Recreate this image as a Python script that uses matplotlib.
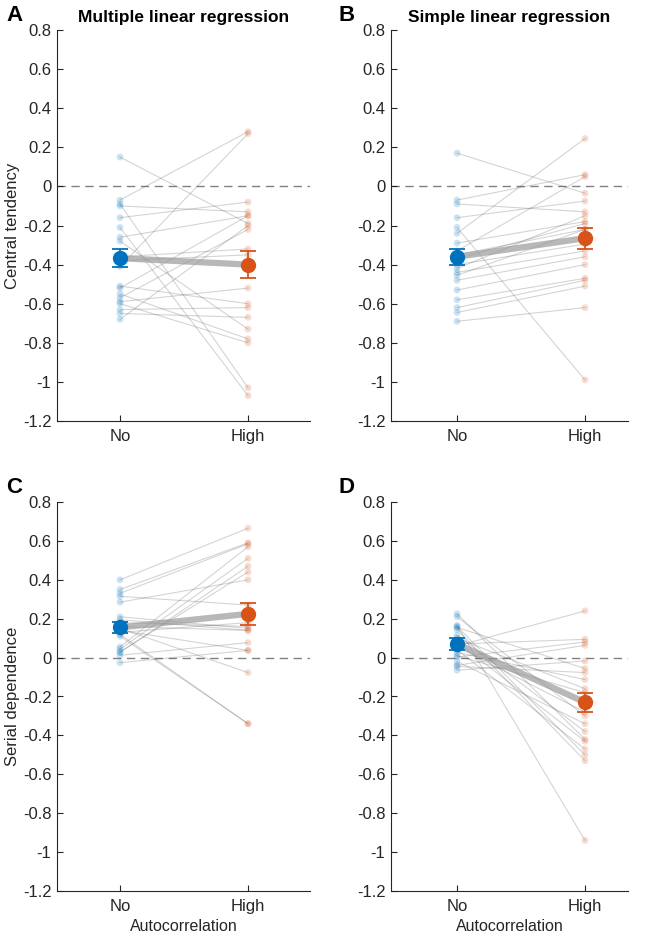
import numpy as np
import matplotlib
matplotlib.use("Agg")
import matplotlib.pyplot as plt
from matplotlib.ticker import FuncFormatter

plt.rcParams['font.family'] = ['Liberation Sans', 'DejaVu Sans']

# values per subject: (No autocorrelation, High autocorrelation)
a_no = [0.15, -0.07, -0.09, -0.10, -0.16, -0.21, -0.26, -0.28, -0.36, -0.38,
        -0.41, -0.51, -0.52, -0.55, -0.57, -0.59, -0.60, -0.63, -0.65, -0.68]
a_high = [-0.19, 0.28, -1.03, -0.13, -0.08, -1.07, -0.15, -0.73, -0.32, -0.35,
          0.27, -0.60, -0.15, -0.78, -0.22, -0.52, -0.80, -0.62, -0.67, -0.20]

b_no = [0.17, -0.07, -0.09, -0.16, -0.21, -0.24, -0.29, -0.33, -0.35, -0.37,
        -0.40, -0.42, -0.44, -0.455, -0.48, -0.53, -0.58, -0.62, -0.645, -0.69]
b_high = [-0.035, 0.06, -0.13, -0.075, -0.99, 0.245, -0.18, 0.05, -0.22, -0.19,
          -0.295, -0.15, -0.33, -0.22, -0.36, -0.40, -0.47, -0.48, -0.51, -0.62]

c_no = [0.40, 0.35, 0.33, 0.315, 0.285, 0.21, 0.195, 0.18, 0.16, 0.14,
        0.12, 0.11, 0.13, 0.055, 0.043, 0.026, 0.03, 0.012, -0.026, 0.15]
c_high = [0.665, 0.59, 0.585, 0.27, 0.40, 0.15, 0.14, 0.16, 0.14, 0.037,
          -0.34, -0.34, 0.18, 0.57, 0.51, 0.47, 0.44, 0.077, 0.037, -0.077]

d_no = [0.225, 0.21, 0.165, 0.16, 0.155, 0.145, 0.115, 0.10, 0.08, 0.07,
        0.06, 0.055, 0.04, 0.026, 0.01, 0.003, -0.02, -0.04, -0.045, -0.065]
d_high = [-0.42, -0.30, -0.94, -0.50, -0.056, -0.53, -0.38, -0.16, -0.43, 0.094,
          0.24, -0.28, -0.47, -0.113, -0.18, 0.08, -0.34, 0.063, -0.077, -0.017]

# group means and SEM
means = {'A': (-0.367, -0.40), 'B': (-0.36, -0.265), 'C': (0.155, 0.225), 'D': (0.07, -0.23)}
sems = {'A': (0.045, 0.07), 'B': (0.04, 0.053), 'C': (0.03, 0.055), 'D': (0.03, 0.05)}

conditions = ['No', 'High']
titles = {'A': 'Multiple linear regression', 'B': 'Simple linear regression'}
blue = '#0072BD'
orange = '#D95319'
txt = '#262626'

fig = plt.figure(figsize=(6.5, 9.38), dpi=100)
W, H = 650, 938


def add_ax(left, top, right, bottom):
    return fig.add_axes([left / W, 1 - bottom / H, (right - left) / W, (bottom - top) / H])


def fmt_tick(v, pos):
    v = round(v, 1) + 0.0
    return f"{v:g}"


axes = {
    'A': add_ax(57, 30, 310, 421),
    'B': add_ax(391, 30, 628, 421),
    'C': add_ax(57, 502, 310, 891),
    'D': add_ax(391, 502, 628, 891),
}
xlims = {'A': (0.508, 2.484), 'B': (0.484, 2.336), 'C': (0.508, 2.484), 'D': (0.484, 2.336)}
data = {'A': (a_no, a_high), 'B': (b_no, b_high), 'C': (c_no, c_high), 'D': (d_no, d_high)}

for key, ax in axes.items():
    no, high = data[key]
    ax.axhline(0, color='#808080', ls=(0, (6, 4)), lw=1, zorder=1)
    for y0, y1 in zip(no, high):
        ax.plot([1, 2], [y0, y1], color='#555555', alpha=0.25, lw=0.8, zorder=2)
    ax.scatter(np.ones(len(no)), no, s=24, color=blue, alpha=0.2, edgecolors='none', zorder=3)
    ax.scatter(np.full(len(high), 2), high, s=24, color=orange, alpha=0.2, edgecolors='none', zorder=3)
    m = means[key]
    e = sems[key]
    ax.plot([1, 2], m, color='#9a9a9a', lw=4.5, alpha=0.7, zorder=4, solid_capstyle='butt')
    ax.errorbar(1, m[0], yerr=e[0], fmt='o', color=blue, ms=10, capsize=5.5, lw=1.3, capthick=1.3, zorder=5)
    ax.errorbar(2, m[1], yerr=e[1], fmt='o', color=orange, ms=10, capsize=5.5, lw=1.3, capthick=1.3, zorder=5)

    ax.set_xlim(*xlims[key])
    ax.set_ylim(-1.2, 0.8)
    ax.set_xticks([1, 2])
    ax.set_xticklabels(conditions)
    ax.set_yticks(np.round(np.arange(-1.2, 0.81, 0.2), 1))
    ax.yaxis.set_major_formatter(FuncFormatter(fmt_tick))
    ax.tick_params(direction='in', length=4, colors=txt, labelsize=12)
    ax.tick_params(axis='x', pad=6)
    ax.tick_params(axis='y', pad=4)
    for s in ['top', 'right']:
        ax.spines[s].set_visible(False)
    for s in ['left', 'bottom']:
        ax.spines[s].set_color(txt)
        ax.spines[s].set_linewidth(0.8)

    ax.text(-0.2 if key in 'AC' else -0.22, 1.038, key, transform=ax.transAxes,
            fontsize=16, fontweight='bold', ha='left', va='center', color='black')
    if key in titles:
        ax.set_title(titles[key], fontsize=12.5, fontweight='bold', color='black', pad=6)
    if key in 'CD':
        ax.set_xlabel('Autocorrelation', fontsize=11.5, color=txt, labelpad=3)

axes['A'].set_ylabel('Central tendency', fontsize=12, color=txt, labelpad=2)
axes['C'].set_ylabel('Serial dependence', fontsize=12, color=txt, labelpad=2)

fig.savefig('out.png', dpi=100)
